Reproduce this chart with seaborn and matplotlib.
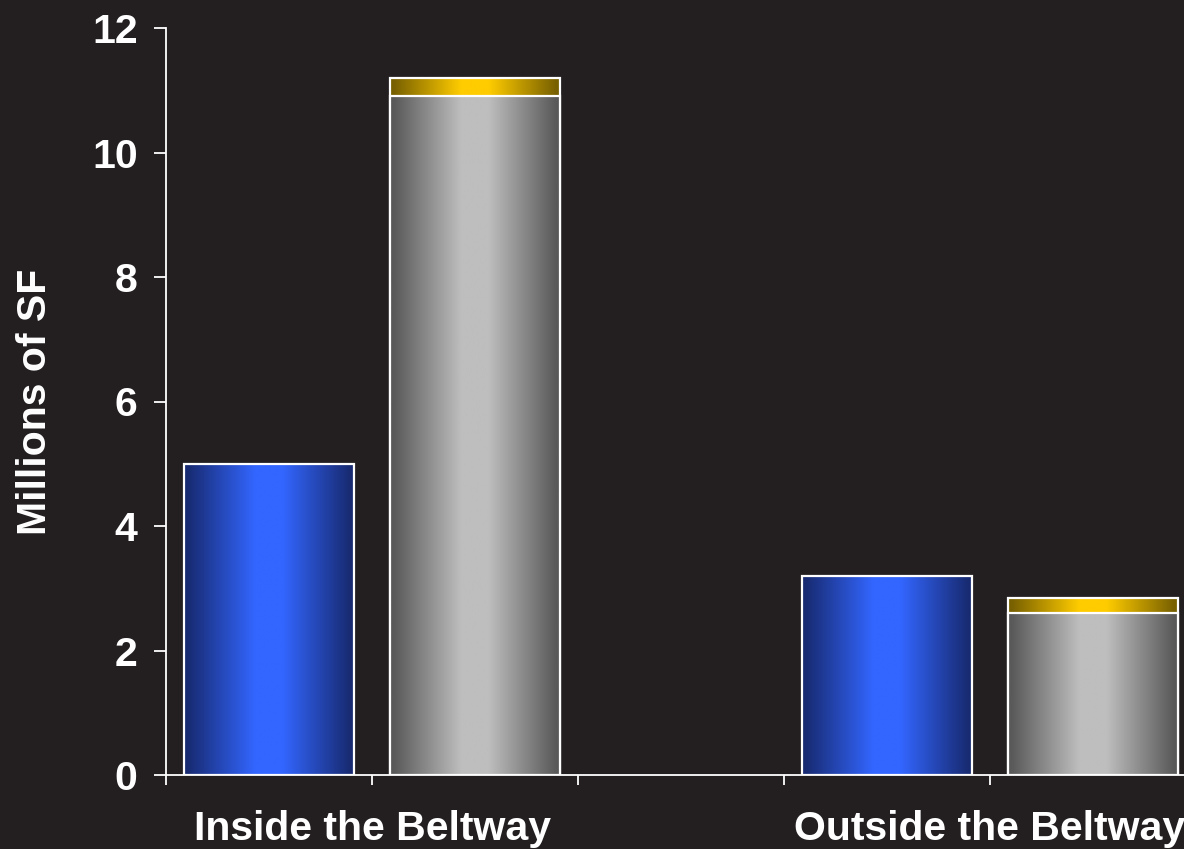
import numpy as np
import pandas as pd
import matplotlib
matplotlib.use("Agg")
import matplotlib.pyplot as plt
import seaborn as sns
from matplotlib.colors import LinearSegmentedColormap

# Values (millions of square feet)
categories = ["Inside the Beltway", "Outside the Beltway"]
blue_values = [5.0, 3.2]
grey_values = [10.9, 2.6]
gold_values = [0.3, 0.25]
y_ticks = [0, 2, 4, 6, 8, 10, 12]

# Five equal slots along the x axis; the middle one stays empty
slots = ["s0", "s1", "s2", "s3", "s4"]
blue_slots = ["s0", "s3"]
grey_slots = ["s1", "s4"]

BG = "#231F20"
FONT = "Liberation Sans"

sns.set_theme(style="white")
plt.rcParams["font.family"] = [FONT, "DejaVu Sans"]
plt.rcParams["font.weight"] = "bold"

fig = plt.figure(figsize=(11.84, 8.49), dpi=100, facecolor=BG)
ax = fig.add_axes([166 / 1184, 74 / 849, 1030 / 1184, 747 / 849])
ax.set_facecolor(BG)

blue_df = pd.DataFrame({"slot": blue_slots, "value": blue_values})
stack_df = pd.DataFrame({
    "slot": grey_slots,
    "total": [g + t for g, t in zip(grey_values, gold_values)],
    "base": grey_values,
})

bar_kw = dict(order=slots, width=0.825, edgecolor="white", linewidth=1.6,
              errorbar=None, ax=ax)

n0 = len(ax.patches)
sns.barplot(data=blue_df, x="slot", y="value", color="#3366FF", **bar_kw)
blue_patches = ax.patches[n0:]
n1 = len(ax.patches)
sns.barplot(data=stack_df, x="slot", y="total", color="#FFCC00", **bar_kw)
gold_patches = ax.patches[n1:]
n2 = len(ax.patches)
sns.barplot(data=stack_df, x="slot", y="base", color="#C0C0C0", **bar_kw)
grey_patches = ax.patches[n2:]

cmaps = {
    "blue": LinearSegmentedColormap.from_list("blue", ["#182B72", "#3366FF"]),
    "gold": LinearSegmentedColormap.from_list("gold", ["#786000", "#FFCC00"]),
    "grey": LinearSegmentedColormap.from_list("grey", ["#595959", "#BEBEBE"]),
}

# Horizontal shading: dark near both edges, bright through the middle
t = np.linspace(0, 1, 400)
v = 1 - np.abs(2 * t - 1)
profile = np.clip((v - 0.04) / 0.8, 0, 1)[None, :]


def shade(patches, cmap, z):
    for p in patches:
        x0, w = p.get_x(), p.get_width()
        y0, h = p.get_y(), p.get_height()
        ax.imshow(profile, cmap=cmap, extent=[x0, x0 + w, y0, y0 + h],
                  aspect="auto", origin="lower", zorder=z, interpolation="bilinear")
        p.set_facecolor("none")
        p.set_zorder(z + 0.05)


shade(blue_patches, cmaps["blue"], 2)
shade(gold_patches, cmaps["gold"], 2)
shade(grey_patches, cmaps["grey"], 2.2)

ax.set_xlim(-0.5, len(slots) - 0.5)
ax.set_ylim(0, 12)

# Slot boundaries carry tick marks; category names sit between pairs of bars
ax.xaxis.remove_overlapping_locs = False
ax.set_xticks(np.arange(-0.5, len(slots), 1.0))
ax.set_xticklabels([])
ax.set_xticks([0.5, 3.5], minor=True)
ax.set_xticklabels(categories, minor=True)
ax.tick_params(axis="x", which="major", direction="out", length=7.5, width=1.3,
               color="white", bottom=True)
ax.tick_params(axis="x", which="minor", length=0, pad=25.5, labelsize=29.5,
               labelcolor="white", bottom=True, labelbottom=True)

ax.set_yticks(y_ticks)
ax.set_yticklabels([str(v) for v in y_ticks])
ax.tick_params(axis="y", direction="out", length=8.5, width=1.3, color="white",
               pad=12, labelsize=29.5, labelcolor="white", left=True)

for lab in ax.get_xticklabels(minor=True) + ax.get_yticklabels():
    lab.set_fontweight("bold")
    lab.set_fontfamily([FONT, "DejaVu Sans"])

ax.set_xlabel("")
ax.set_ylabel("Millions of SF", fontsize=29.5, fontweight="bold", color="white",
              labelpad=27)

for side in ["top", "right"]:
    ax.spines[side].set_visible(False)
for side in ["left", "bottom"]:
    ax.spines[side].set_visible(True)
    ax.spines[side].set_color("white")
    ax.spines[side].set_linewidth(1.3)

fig.savefig("out.png", dpi=100, facecolor=BG)
